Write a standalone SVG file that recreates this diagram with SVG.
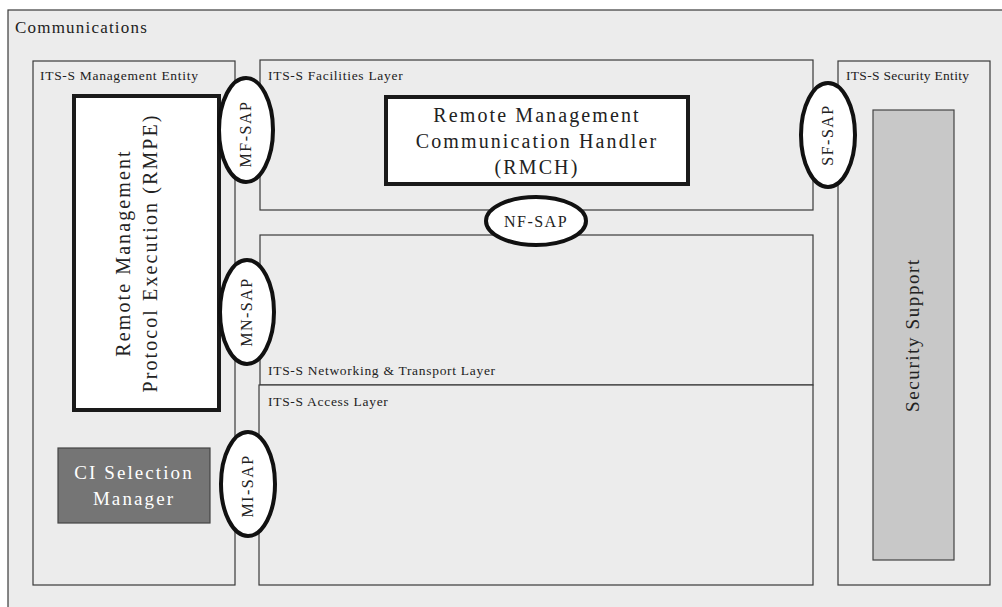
<svg xmlns="http://www.w3.org/2000/svg" width="1002" height="607" viewBox="0 0 1002 607">
<style>
.box{fill:#ececec;stroke:#3a3a3a;stroke-width:1.2}
.thick{fill:#ffffff;stroke:#1a1a1a;stroke-width:4}
.sap{fill:#ffffff;stroke:#111;stroke-width:4}
text{font-family:"Liberation Serif","DejaVu Serif",serif;fill:#222}
.lbl{font-size:13.5px;letter-spacing:0.7px}
.big{font-size:20px;letter-spacing:2.1px;text-anchor:middle}
.sapt{font-size:16px;letter-spacing:1.5px;text-anchor:middle}
</style>
<rect width="1002" height="607" fill="#ffffff"/>
<g id="communications">
<rect class="box" x="8" y="10" width="1000" height="605"/>
<text x="15" y="33" style="font-size:17px;letter-spacing:1.2px">Communications</text>
</g>
<g id="management-entity">
<rect class="box" x="33" y="61" width="202" height="524"/>
<text class="lbl" x="40" y="80">ITS-S Management Entity</text>
</g>
<g id="facilities-layer">
<rect class="box" x="260" y="60" width="553" height="150"/>
<text class="lbl" x="268" y="80">ITS-S Facilities Layer</text>
</g>
<g id="networking-layer">
<rect class="box" x="260" y="235" width="553" height="150"/>
<text class="lbl" x="268" y="375">ITS-S Networking &amp; Transport Layer</text>
</g>
<g id="access-layer">
<rect class="box" x="259" y="385" width="554" height="200"/>
<text class="lbl" x="268" y="406">ITS-S Access Layer</text>
</g>
<g id="security-entity">
<rect class="box" x="838" y="61" width="152" height="524"/>
<text class="lbl" x="846" y="80" style="letter-spacing:0.3px">ITS-S Security Entity</text>
</g>
<g id="security-support">
<rect x="873" y="110" width="81" height="450" fill="#c8c8c8" stroke="#444" stroke-width="1.2"/>
<text transform="translate(919,335) rotate(-90)" style="font-size:19px;letter-spacing:1.6px;text-anchor:middle">Security Support</text>
</g>
<g id="rmpe">
<rect class="thick" x="74" y="96" width="145" height="314"/>
<text class="big" transform="translate(130,253) rotate(-90)">Remote Management</text>
<text class="big" transform="translate(157,253) rotate(-90)">Protocol Execution (RMPE)</text>
</g>
<g id="rmch">
<rect class="thick" x="386" y="97" width="302" height="87"/>
<text class="big" x="537" y="122">Remote Management</text>
<text class="big" x="537" y="148">Communication Handler</text>
<text class="big" x="537" y="174">(RMCH)</text>
</g>
<g id="ci-selection-manager">
<rect x="58" y="448" width="152" height="75" fill="#757575" stroke="#444" stroke-width="1.2"/>
<text class="big" x="134" y="479" style="fill:#ffffff;font-size:19px">CI Selection</text>
<text class="big" x="134" y="505" style="fill:#ffffff;font-size:19px">Manager</text>
</g>
<g id="connectors"></g>
<g id="mf-sap">
<ellipse class="sap" cx="246" cy="130" rx="27" ry="52"/>
<text class="sapt" transform="translate(251,134) rotate(-90)">MF-SAP</text>
</g>
<g id="mn-sap">
<ellipse class="sap" cx="247" cy="312" rx="27" ry="52"/>
<text class="sapt" transform="translate(252,312) rotate(-90)">MN-SAP</text>
</g>
<g id="mi-sap">
<ellipse class="sap" cx="248" cy="484" rx="27" ry="52"/>
<text class="sapt" transform="translate(253,486) rotate(-90)">MI-SAP</text>
</g>
<g id="sf-sap">
<ellipse class="sap" cx="828" cy="135" rx="27" ry="52"/>
<text class="sapt" transform="translate(833,135) rotate(-90)">SF-SAP</text>
</g>
<g id="nf-sap">
<ellipse class="sap" cx="536" cy="221" rx="50" ry="24"/>
<text class="sapt" x="536" y="227">NF-SAP</text>
</g>
</svg>
